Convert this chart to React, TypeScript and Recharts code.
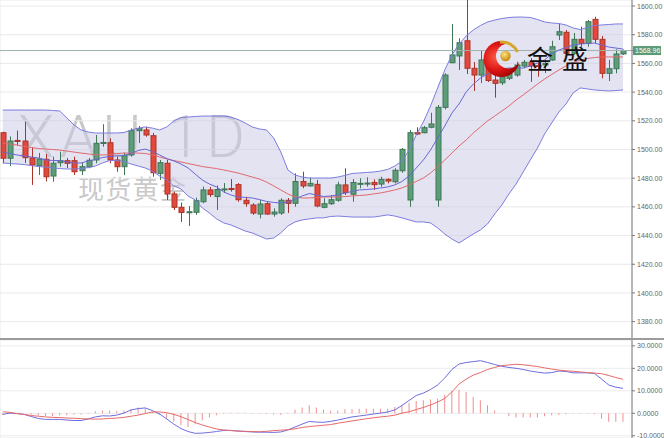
import React from "react";
import {
  ComposedChart,
  Bar,
  Line,
  Area,
  XAxis,
  YAxis,
  CartesianGrid,
  ReferenceLine,
} from "recharts";

// daily XAU candles
const opens = [
  1511.7, 1493.9, 1506.3, 1505.9, 1494.1, 1488.7, 1493.2, 1481.5, 1490.8, 1492.2,
  1492.2, 1485.2, 1488.0, 1492.7, 1504.2, 1504.7, 1492.7, 1488.0, 1496.2, 1513.1,
  1513.6, 1509.6, 1483.4, 1490.4, 1469.0, 1459.7, 1456.1, 1456.2, 1463.6, 1471.8,
  1467.2, 1472.0, 1472.8, 1475.5, 1464.6, 1461.3, 1455.0, 1462.2, 1455.0, 1455.7,
  1464.6, 1462.5, 1477.7, 1474.6, 1475.7, 1459.7, 1462.2, 1464.6, 1475.3, 1468.8,
  1475.9, 1476.2, 1477.0, 1475.9, 1479.2, 1477.5, 1485.2, 1464.8, 1511.7, 1511.7,
  1515.5, 1464.8, 1529.4, 1560.5, 1565.2, 1575.8, 1556.6, 1551.9, 1560.1, 1548.4,
  1546.5, 1549.6, 1551.9, 1558.2, 1560.8, 1558.5, 1558.9, 1562.4, 1579.8, 1581.7,
  1567.0, 1576.8, 1574.0, 1590.7, 1576.8, 1553.1, 1556.3, 1566.6,
];
const highs = [
  1512.4, 1509.1, 1513.2, 1519.4, 1501.7, 1497.6, 1496.9, 1495.0, 1498.5, 1494.1,
  1495.0, 1490.6, 1494.1, 1510.1, 1517.6, 1507.8, 1495.0, 1497.8, 1514.8, 1516.4,
  1515.9, 1511.5, 1492.7, 1492.7, 1470.6, 1463.0, 1460.6, 1466.4, 1474.1, 1473.9,
  1474.9, 1476.6, 1479.4, 1476.6, 1467.1, 1462.5, 1464.8, 1463.6, 1459.0, 1466.0,
  1466.2, 1483.4, 1484.5, 1480.6, 1478.8, 1466.0, 1468.3, 1477.5, 1486.9, 1479.4,
  1479.9, 1480.6, 1479.2, 1481.0, 1479.9, 1486.9, 1501.0, 1513.6, 1515.5, 1516.4,
  1525.6, 1531.0, 1553.1, 1587.5, 1577.5, 1611.0, 1561.0, 1569.3, 1562.4, 1554.2,
  1551.9, 1555.4, 1561.2, 1562.4, 1563.6, 1561.2, 1562.4, 1575.8, 1587.9, 1583.3,
  1581.2, 1585.6, 1590.2, 1592.5, 1579.1, 1562.4, 1569.8, 1569.7,
];
const lows = [
  1490.6, 1488.5, 1502.8, 1490.6, 1475.3, 1482.2, 1477.7, 1477.5, 1488.0, 1487.1,
  1482.2, 1482.2, 1486.9, 1490.4, 1501.9, 1490.4, 1484.5, 1482.2, 1495.0, 1504.5,
  1508.9, 1481.0, 1478.8, 1464.8, 1457.8, 1449.5, 1446.7, 1454.4, 1462.5, 1466.9,
  1457.8, 1469.7, 1470.6, 1463.6, 1460.1, 1454.4, 1452.0, 1454.4, 1453.2, 1454.4,
  1455.7, 1460.1, 1473.0, 1474.1, 1459.7, 1459.0, 1461.3, 1463.6, 1468.3, 1463.6,
  1473.0, 1474.1, 1471.8, 1474.1, 1476.4, 1476.4, 1483.8, 1460.1, 1510.1, 1511.3,
  1514.8, 1460.1, 1528.0, 1560.1, 1555.4, 1552.6, 1540.8, 1546.3, 1547.0, 1536.1,
  1544.9, 1548.4, 1550.7, 1556.6, 1547.2, 1550.7, 1553.3, 1561.7, 1576.3, 1564.7,
  1565.9, 1571.6, 1571.6, 1574.0, 1549.6, 1547.7, 1553.1, 1565.9,
];
const closes = [
  1493.9, 1505.9, 1505.6, 1494.3, 1489.2, 1493.4, 1481.0, 1490.4, 1492.2, 1490.4,
  1484.5, 1488.0, 1492.5, 1504.3, 1504.9, 1492.7, 1488.0, 1495.7, 1513.1, 1514.5,
  1510.1, 1483.8, 1490.8, 1469.0, 1459.7, 1456.1, 1456.6, 1464.3, 1471.8, 1468.6,
  1472.1, 1472.5, 1472.1, 1465.0, 1462.2, 1455.7, 1462.0, 1455.0, 1456.4, 1464.6,
  1462.5, 1477.7, 1474.6, 1476.4, 1460.6, 1462.2, 1465.0, 1475.3, 1469.9, 1477.0,
  1476.4, 1476.6, 1475.5, 1479.2, 1478.0, 1485.5, 1500.1, 1511.7, 1510.8, 1515.2,
  1517.8, 1529.4, 1551.9, 1565.9, 1574.4, 1556.6, 1551.9, 1562.4, 1548.1, 1546.1,
  1550.7, 1553.1, 1558.9, 1560.8, 1558.2, 1557.8, 1560.1, 1571.6, 1582.1, 1567.0,
  1576.8, 1574.0, 1589.1, 1576.8, 1553.1, 1556.3, 1566.6, 1568.96,
];

// bollinger bands + moving averages
const upperBand = [
  1527.5, 1527.5, 1527.5, 1527.5, 1527.5, 1527.5, 1527.5, 1527.2, 1526.8, 1522.0,
  1517.1, 1513.6, 1512.2, 1511.5, 1511.5, 1511.5, 1511.5, 1511.8, 1513.6, 1514.9,
  1515.7, 1514.9, 1513.6, 1515.7, 1519.9, 1522.3, 1522.6, 1523.0, 1523.3, 1523.3,
  1523.3, 1523.3, 1522.6, 1520.9, 1518.5, 1515.7, 1514.3, 1513.6, 1508.0, 1498.3,
  1485.7, 1482.2, 1480.8, 1480.1, 1480.1, 1480.1, 1480.1, 1480.8, 1481.9, 1483.3,
  1483.6, 1484.0, 1484.3, 1485.0, 1486.1, 1488.5, 1492.0, 1499.6, 1510.1, 1519.2,
  1530.3, 1542.9, 1555.4, 1565.9, 1573.5, 1579.1, 1583.3, 1586.4, 1588.9, 1590.2,
  1591.3, 1592.0, 1592.3, 1592.3, 1592.0, 1590.6, 1588.9, 1588.2, 1587.8, 1586.8,
  1584.7, 1583.6, 1585.0, 1586.4, 1586.8, 1587.1, 1587.5, 1587.5,
];
const lowerBand = [
  1490.6, 1490.2, 1489.9, 1489.5, 1488.8, 1488.1, 1487.8, 1487.1, 1486.7, 1486.4,
  1486.4, 1486.7, 1487.4, 1488.5, 1490.6, 1492.3, 1492.3, 1491.6, 1489.9, 1488.5,
  1487.1, 1485.0, 1481.5, 1478.8, 1474.6, 1472.5, 1467.6, 1464.8, 1459.2, 1455.7,
  1451.6, 1448.8, 1447.4, 1445.3, 1443.2, 1441.8, 1439.7, 1437.6, 1438.3, 1441.8,
  1446.7, 1449.5, 1450.9, 1451.6, 1452.3, 1452.3, 1453.3, 1453.6, 1453.3, 1452.9,
  1452.9, 1452.9, 1452.9, 1453.6, 1454.4, 1453.6, 1452.3, 1450.9, 1449.5, 1449.5,
  1448.8, 1445.3, 1441.1, 1437.6, 1434.8, 1438.0, 1441.1, 1443.9, 1448.1, 1455.0,
  1461.3, 1469.0, 1475.9, 1484.3, 1492.7, 1501.0, 1510.8, 1518.5, 1526.1, 1531.7,
  1539.4, 1542.9, 1542.2, 1541.5, 1541.1, 1540.8, 1541.1, 1541.5,
];
const midBand = [
  1504.5, 1503.8, 1503.1, 1502.1, 1501.4, 1500.7, 1500.3, 1500.0, 1499.6, 1498.9,
  1498.2, 1497.5, 1496.9, 1496.2, 1496.2, 1496.5, 1497.2, 1497.5, 1497.5, 1497.5,
  1497.2, 1496.2, 1494.8, 1493.4, 1492.3, 1491.3, 1490.2, 1489.2, 1488.1, 1487.4,
  1486.7, 1485.7, 1484.7, 1483.6, 1482.2, 1480.8, 1479.4, 1477.3, 1474.6, 1471.8,
  1469.0, 1466.9, 1466.2, 1466.2, 1466.6, 1466.9, 1466.9, 1466.9, 1467.2, 1467.6,
  1467.9, 1468.3, 1469.0, 1469.7, 1470.7, 1471.8, 1473.2, 1475.3, 1477.7, 1480.1,
  1483.6, 1487.8, 1492.7, 1497.5, 1502.4, 1506.6, 1511.5, 1515.7, 1519.9, 1523.3,
  1526.8, 1530.3, 1534.5, 1538.0, 1541.8, 1545.6, 1549.1, 1552.3, 1555.4, 1558.2,
  1560.6, 1562.4, 1563.4, 1564.1, 1564.5, 1564.5, 1564.5, 1564.5,
];
const fastMa = [
  1498.2, 1497.2, 1496.2, 1495.5, 1494.8, 1494.1, 1492.7, 1492.3, 1492.3, 1491.3,
  1490.6, 1490.6, 1492.0, 1493.0, 1494.4, 1495.1, 1495.5, 1495.8, 1497.2, 1499.3,
  1500.3, 1498.6, 1496.2, 1493.7, 1492.0, 1489.9, 1487.1, 1482.9, 1478.7, 1475.9,
  1473.9, 1470.4, 1468.3, 1466.9, 1466.6, 1466.2, 1465.1, 1463.8, 1463.1, 1462.7,
  1463.4, 1465.5, 1467.6, 1469.3, 1468.3, 1467.2, 1467.6, 1468.3, 1469.7, 1470.7,
  1471.8, 1472.1, 1472.5, 1473.2, 1473.9, 1475.3, 1477.7, 1481.5, 1487.1, 1492.7,
  1499.6, 1508.0, 1516.4, 1525.4, 1531.7, 1540.1, 1545.6, 1549.8, 1552.6, 1554.7,
  1556.1, 1556.8, 1556.8, 1556.8, 1558.2, 1560.3, 1562.4, 1566.6, 1569.3, 1571.1,
  1572.8, 1573.5, 1573.9, 1574.2, 1572.8, 1571.4, 1570.7, 1570.0,
];

// MACD panel
const dif = [
  -0.5, 0.1, -0.1, -0.5, -1.4, -2.3, -2.7, -2.7, -2.7, -3.0,
  -3.2, -3.2, -2.5, -1.6, -1.1, -1.2, -0.8, 0.1, 1.5, 2.1,
  2.4, 1.2, -0.3, -2.5, -4.8, -6.8, -8.1, -8.9, -8.8, -8.5,
  -8.1, -7.6, -7.6, -7.9, -8.1, -8.3, -8.4, -8.4, -8.5, -8.3,
  -7.4, -6.1, -4.8, -3.6, -3.9, -4.0, -3.6, -3.0, -2.3, -1.6,
  -1.2, -0.8, -0.3, 0.1, 0.6, 1.5, 3.5, 5.7, 7.9, 9.0,
  10.6, 12.6, 15.7, 19.5, 21.9, 22.6, 23.0, 23.4, 22.6, 21.7,
  20.9, 20.4, 20.0, 19.5, 18.8, 18.3, 17.9, 18.1, 18.8, 18.6,
  18.0, 18.0, 18.0, 17.7, 15.2, 12.6, 11.6, 11.1,
];
const dea = [
  0.7, 0.4, -0.1, -0.5, -1.0, -1.3, -1.6, -1.8, -1.9, -2.1,
  -2.2, -2.4, -2.5, -2.6, -2.5, -2.3, -2.1, -1.8, -1.3, -0.8,
  -0.1, 0.6, 0.6, 0.3, -0.5, -1.5, -2.8, -4.1, -5.2, -6.1,
  -7.0, -7.4, -7.7, -7.9, -8.0, -8.1, -8.2, -8.0, -7.7, -7.5,
  -7.3, -6.9, -6.3, -5.9, -5.6, -5.3, -5.0, -4.4, -3.9, -3.4,
  -2.9, -2.4, -2.0, -1.6, -1.3, -0.8, 0.1, 0.7, 1.7, 2.6,
  3.7, 5.0, 6.6, 9.5, 13.0, 15.2, 17.0, 18.1, 19.5, 20.4,
  21.2, 21.5, 21.8, 21.6, 21.2, 20.8, 20.2, 19.7, 19.2, 18.9,
  18.7, 18.4, 18.1, 17.9, 17.6, 16.8, 15.9, 15.1,
];
const macdHist = [
  -0.6, -0.3, 0.0, 0.0, -0.6, -1.0, -1.2, -1.2, -1.0, -0.9,
  -0.6, -0.5, 0.2, 0.9, 1.3, 1.3, 1.0, 1.2, 1.8, 2.6,
  2.2, 0.6, -0.6, -2.3, -3.8, -5.3, -6.1, -4.9, -3.1, -1.9,
  -0.9, -0.2, 0.2, 0.3, 0.2, -0.2, -0.2, -0.3, -0.5, -0.6,
  0.3, 1.6, 2.6, 3.6, 2.6, 1.6, 1.3, 1.3, 1.8, 1.8,
  2.0, 2.0, 2.0, 2.0, 2.0, 2.8, 3.6, 4.6, 5.5, 5.8,
  6.1, 6.5, 8.3, 9.9, 10.5, 9.5, 7.2, 5.8, 3.6, 1.3,
  0.0, -1.3, -1.9, -1.9, -1.9, -1.9, -1.3, -0.9, -0.7, -0.4,
  -0.2, -0.2, -0.2, -0.4, -2.4, -3.8, -3.8, -3.8,
];

// candle indices where the vertical grid lines fall
const gridDays = [2, 8, 19, 25, 31, 40, 46, 52, 61, 67, 73, 83];
const priceTicks = [1380, 1400, 1420, 1440, 1460, 1480, 1500, 1520, 1540, 1560, 1580, 1600];
const macdTicks = [-10, 0, 10, 20, 30];
const lastPrice = 1568.96;

const W = 664;
const AXIS_W = 32;
const MAIN_H = 339;
const MACD_H = 98;
const xDomain: [number, number] = [-0.38, 88.26];
const priceDomain: [number, number] = [1367.9, 1604.2];
const macdDomain: [number, number] = [-10.98, 32.6];

const FONT = "'Liberation Sans', Arial, sans-serif";
const UP = "#5d9e79";
const UP_EDGE = "#3e7656";
const DOWN = "#e2493a";
const DOWN_EDGE = "#a9342a";

const rows = opens.map((open, i) => ({
  i,
  open,
  high: highs[i],
  low: lows[i],
  close: closes[i],
  range: [lows[i], highs[i]],
  band: [lowerBand[i], upperBand[i]],
  upper: upperBand[i],
  lower: lowerBand[i],
  mid: midBand[i],
  fast: fastMa[i],
  dif: dif[i],
  dea: dea[i],
  hist: macdHist[i],
}));

function Candle(props: any) {
  const { x, y, width, height, payload } = props;
  if (!payload || x == null) return null;
  const top = Math.min(y, y + height);
  const h = Math.abs(height);
  const span = payload.high - payload.low || 1;
  const k = h / span;
  const py = (v: number) => top + (payload.high - v) * k;
  const up = payload.close >= payload.open;
  const bTop = py(Math.max(payload.open, payload.close));
  const bBot = py(Math.min(payload.open, payload.close));
  const cx = Math.round(x + width / 2) + 0.5;
  const edge = up ? UP_EDGE : DOWN_EDGE;
  return (
    <g>
      <line x1={cx} x2={cx} y1={top} y2={top + h} stroke={edge} strokeWidth={1} />
      <rect
        x={cx - width / 2 + 0.5}
        y={bTop}
        width={width - 1}
        height={Math.max(bBot - bTop, 1)}
        fill={up ? UP : DOWN}
        stroke={edge}
        strokeWidth={1}
      />
    </g>
  );
}

function PriceTick(props: any) {
  const { x, y, payload } = props;
  const v = payload.value;
  if (v === lastPrice) {
    return (
      <g>
        <rect x={x - 4} y={y - 4.5} width={28} height={9} fill="#5a9a76" />
        <text x={x - 2} y={y + 2.6} fontSize={7} fill="#fff" fontFamily={FONT}>
          {v.toFixed(2)}
        </text>
      </g>
    );
  }
  return (
    <text x={x} y={y + 2.6} fontSize={7} fill="#666" fontFamily={FONT}>
      {v.toFixed(2)}
    </text>
  );
}

function MacdTick(props: any) {
  const { x, y, payload } = props;
  return (
    <text x={x} y={y + 2.6} fontSize={7} fill="#666" fontFamily={FONT}>
      {payload.value.toFixed(4)}
    </text>
  );
}

function Watermark() {
  return (
    <svg
      width={W}
      height={MAIN_H}
      style={{ position: "absolute", left: 0, top: 0 }}
    >
      <text
        x={18}
        y={157}
        fontSize={59}
        fontWeight={300}
        fill="#c9c9c9"
        fontFamily="Roboto, Lato, sans-serif"
        textLength={227}
        lengthAdjust="spacing"
      >
        XAU 1D
      </text>
      <text
        x={78}
        y={199}
        fontSize={26}
        fill="#c9c9c9"
        fontFamily="'Noto Sans CJK SC', sans-serif"
        textLength={108}
        lengthAdjust="spacing"
      >
        现货黄金
      </text>
    </svg>
  );
}

function Logo() {
  return (
    <svg
      width={W}
      height={MAIN_H}
      style={{ position: "absolute", left: 0, top: 0, pointerEvents: "none" }}
    >
      <defs>
        <radialGradient id="crescentRed" cx="35%" cy="45%" r="70%">
          <stop offset="0" stopColor="#ff5a44" />
          <stop offset="0.55" stopColor="#d91212" />
          <stop offset="1" stopColor="#8d0000" />
        </radialGradient>
        <radialGradient id="goldDot" cx="40%" cy="35%" r="65%">
          <stop offset="0" stopColor="#ffe27a" />
          <stop offset="1" stopColor="#c28a10" />
        </radialGradient>
        <mask id="crescentCut">
          <rect x={470} y={30} width={60} height={60} fill="#fff" />
          <circle cx={508.5} cy={56} r={12.5} fill="#000" />
        </mask>
      </defs>
      <circle cx={501.5} cy={59} r={18} fill="url(#crescentRed)" mask="url(#crescentCut)" />
      <path d="M 500 42.2 A 17 17 0 0 1 517.5 52" fill="none" stroke="#d7a72a" strokeWidth={3} />
      <circle cx={505.5} cy={56} r={5.2} fill="url(#goldDot)" />
      <text
        x={527}
        y={69}
        fontSize={26}
        fill="#111"
        fontFamily="'Noto Sans CJK SC', sans-serif"
        letterSpacing={9}
      >
        金盛
      </text>
    </svg>
  );
}

export default function App() {
  return (
    <div
      style={{
        position: "absolute",
        left: 0,
        top: 0,
        width: W,
        height: 438,
        overflow: "hidden",
        background: "#fff",
        fontFamily: FONT,
      }}
    >
      <Watermark />
      <div style={{ position: "absolute", left: 0, top: 0 }}>
        <ComposedChart width={W} height={MAIN_H} data={rows} margin={{ top: 0, right: 0, bottom: 0, left: 0 }}>
          <CartesianGrid stroke="#e9e9e9" />
          <XAxis
            dataKey="i"
            type="number"
            domain={xDomain}
            allowDataOverflow
            ticks={gridDays}
            interval={0}
            tick={false}
            tickLine={false}
            axisLine={false}
            height={0}
          />
          <YAxis
            orientation="right"
            type="number"
            domain={priceDomain}
            allowDataOverflow
            ticks={[...priceTicks, lastPrice]}
            interval={0}
            width={AXIS_W}
            tickSize={3}
            tickMargin={2}
            stroke="#7a7a7a"
            tick={<PriceTick />}
          />
          <Area
            dataKey="band"
            type="linear"
            stroke="none"
            fill="#c8c8e6"
            fillOpacity={0.5}
            dot={false}
            activeDot={false}
            isAnimationActive={false}
          />
          <ReferenceLine y={lastPrice} stroke="#9fb2ae" strokeWidth={1} />
          <Line dataKey="upper" type="linear" stroke="#7d7de0" strokeWidth={1} dot={false} activeDot={false} isAnimationActive={false} />
          <Line dataKey="lower" type="linear" stroke="#7d7de0" strokeWidth={1} dot={false} activeDot={false} isAnimationActive={false} />
          <Line dataKey="mid" type="linear" stroke="#e06a6a" strokeWidth={1} dot={false} activeDot={false} isAnimationActive={false} />
          <Line dataKey="fast" type="linear" stroke="#6767d4" strokeWidth={1} dot={false} activeDot={false} isAnimationActive={false} />
          <Bar dataKey="range" barSize={6} shape={<Candle />} isAnimationActive={false} />
        </ComposedChart>
      </div>
      <div style={{ position: "absolute", left: 0, top: 338, width: W, height: 2, background: "#9c9c9c" }} />
      <div style={{ position: "absolute", left: 0, top: 340 }}>
        <ComposedChart width={W} height={MACD_H} data={rows} margin={{ top: 0, right: 0, bottom: 0, left: 0 }}>
          <CartesianGrid stroke="#ececec" />
          <XAxis
            dataKey="i"
            type="number"
            domain={xDomain}
            allowDataOverflow
            ticks={gridDays}
            interval={0}
            tick={false}
            tickLine={false}
            axisLine={false}
            height={0}
          />
          <YAxis
            orientation="right"
            type="number"
            domain={macdDomain}
            allowDataOverflow
            ticks={macdTicks}
            interval={0}
            width={AXIS_W}
            tickSize={3}
            tickMargin={2}
            stroke="#7a7a7a"
            tick={<MacdTick />}
          />
          <Bar dataKey="hist" barSize={1} fill="#f08e8e" isAnimationActive={false} />
          <Line dataKey="dif" type="linear" stroke="#6d6de0" strokeWidth={1} dot={false} activeDot={false} isAnimationActive={false} />
          <Line dataKey="dea" type="linear" stroke="#e86a6a" strokeWidth={1} dot={false} activeDot={false} isAnimationActive={false} />
        </ComposedChart>
      </div>
      <Logo />
    </div>
  );
}
